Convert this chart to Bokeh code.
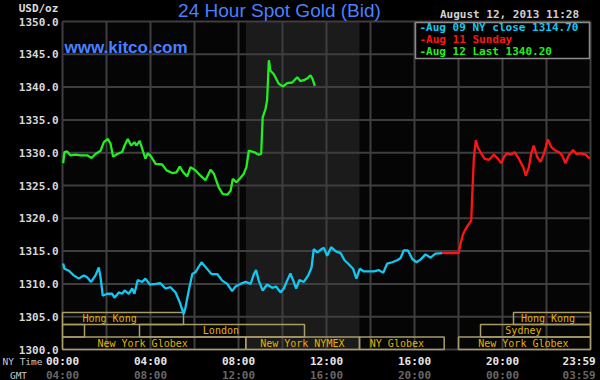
from bokeh.plotting import figure
from bokeh.models import ColumnDataSource, Range1d
from bokeh.core.properties import value
from bokeh.embed import file_html
from bokeh.resources import INLINE

# ---------------- data ----------------
# Aug 12 (today, green) : NY-time hours, USD/oz
aug12_hours = [0.03, 0.09, 0.21, 0.36, 0.59, 0.82, 1.12, 1.32, 1.50, 1.73, 1.88, 2.06, 2.18, 2.30,
               2.49, 2.71, 2.82, 2.97, 3.12, 3.27, 3.36, 3.51, 3.67, 3.77, 3.88, 4.03, 4.23, 4.53,
               4.73, 4.99, 5.18, 5.33, 5.49, 5.67, 5.82, 6.05, 6.27, 6.50, 6.73, 6.88, 7.10, 7.29,
               7.49, 7.64, 7.74, 7.90, 8.05, 8.24, 8.36, 8.47, 8.70, 8.92, 9.03, 9.10, 9.23, 9.30,
               9.38, 9.45, 9.60, 9.83, 10.03, 10.21, 10.44, 10.67, 10.82, 11.00, 11.12, 11.27,
               11.36, 11.47]
aug12_price = [1328.4, 1330.1, 1330.2, 1329.6, 1329.7, 1329.6, 1329.6, 1329.2, 1329.8, 1330.3,
               1331.6, 1332.1, 1331.4, 1329.4, 1329.8, 1330.1, 1331.1, 1332.1, 1331.1, 1331.6,
               1331.1, 1331.8, 1330.1, 1329.1, 1329.9, 1329.4, 1328.3, 1328.2, 1327.3, 1326.9,
               1327.0, 1327.9, 1327.0, 1326.4, 1327.8, 1327.3, 1326.5, 1325.8, 1327.4, 1326.8,
               1324.7, 1323.7, 1323.6, 1324.2, 1326.0, 1325.5, 1326.0, 1326.8, 1327.8, 1330.3,
               1330.1, 1329.7, 1329.8, 1335.4, 1336.7, 1338.0, 1344.1, 1342.5, 1342.0, 1340.5,
               1340.1, 1340.6, 1340.7, 1341.5, 1340.9, 1341.1, 1341.3, 1341.8, 1341.3, 1340.2]

# Aug 09 NY close (cyan)
aug09_hours = [0.03, 0.09, 0.29, 0.51, 0.74, 0.97, 1.12, 1.30, 1.50, 1.65, 1.73, 1.83, 2.03, 2.26,
               2.36, 2.56, 2.71, 2.82, 3.01, 3.17, 3.27, 3.42, 3.62, 3.77, 3.97, 4.23, 4.45, 4.68,
               4.91, 5.14, 5.33, 5.51, 5.59, 5.74, 5.90, 6.05, 6.17, 6.32, 6.47, 6.62, 6.77, 7.03,
               7.26, 7.49, 7.71, 7.86, 8.09, 8.32, 8.55, 8.70, 8.80, 8.92, 9.10, 9.30, 9.53, 9.71,
               9.91, 10.06, 10.21, 10.36, 10.51, 10.62, 10.77, 10.97, 11.17, 11.32, 11.42, 11.58,
               11.73, 11.88, 12.03, 12.21, 12.41, 12.64, 12.82, 13.01, 13.21, 13.36, 13.51, 13.70,
               13.92, 14.15, 14.38, 14.58, 14.76, 14.99, 15.21, 15.36, 15.51, 15.70, 15.90, 16.09,
               16.27, 16.50, 16.73, 16.95, 17.26]
aug09_price = [1313.1, 1312.3, 1312.0, 1311.3, 1310.8, 1311.3, 1311.0, 1310.3, 1311.3, 1312.5,
               1311.0, 1308.2, 1308.5, 1308.5, 1307.9, 1308.7, 1308.5, 1309.0, 1308.5, 1309.3,
               1308.5, 1310.6, 1310.3, 1310.8, 1309.9, 1310.0, 1310.1, 1309.3, 1309.5, 1308.7,
               1307.2, 1305.4, 1306.4, 1309.0, 1311.5, 1311.8, 1312.5, 1313.3, 1312.7, 1312.1,
               1311.5, 1311.5, 1310.5, 1310.0, 1308.9, 1309.6, 1310.0, 1310.3, 1310.0, 1311.5,
               1312.1, 1310.5, 1309.0, 1309.9, 1309.4, 1309.6, 1308.7, 1309.3, 1310.5, 1311.6,
               1310.3, 1309.3, 1310.6, 1310.3, 1311.3, 1312.5, 1315.3, 1314.8, 1315.2, 1315.5,
               1314.3, 1315.6, 1315.0, 1314.7, 1313.6, 1313.0, 1312.3, 1310.8, 1312.3, 1311.9,
               1311.9, 1311.9, 1312.1, 1311.7, 1313.1, 1313.3, 1313.6, 1313.9, 1315.1, 1315.1,
               1313.8, 1313.3, 1313.7, 1314.5, 1314.0, 1314.6, 1314.7]

# Aug 11 Sunday (red)
aug11_hours = [17.26, 18.01, 18.09, 18.21, 18.36, 18.51, 18.58, 18.62, 18.70, 18.79, 18.88, 19.00,
               19.18, 19.38, 19.60, 19.79, 19.94, 20.06, 20.21, 20.40, 20.55, 20.74, 20.94, 21.06,
               21.20, 21.30, 21.42, 21.58, 21.73, 21.88, 22.06, 22.23, 22.41, 22.56, 22.71, 22.86,
               23.01, 23.21, 23.36, 23.55, 23.77, 23.97]
aug11_price = [1314.7, 1314.7, 1316.1, 1317.6, 1318.6, 1319.3, 1319.7, 1323.2, 1329.3, 1331.9,
               1330.8, 1330.1, 1329.1, 1328.9, 1329.7, 1329.1, 1328.4, 1329.3, 1329.9, 1329.7,
               1330.1, 1329.1, 1327.8, 1326.5, 1327.8, 1329.8, 1331.1, 1329.3, 1328.6, 1329.8,
               1332.0, 1330.8, 1330.3, 1330.1, 1329.6, 1328.4, 1329.6, 1330.4, 1329.8, 1329.9,
               1329.7, 1329.1]

price_ticks = [1300, 1305, 1310, 1315, 1320, 1325, 1330, 1335, 1340, 1345, 1350]
grid_hours = [0, 2, 4, 6, 8, 10, 12, 14, 16, 18, 20, 22, 24]
time_ticks = [0, 4, 8, 12, 16, 20]
ny_time_labels = ["00:00", "04:00", "08:00", "12:00", "16:00", "20:00"]
gmt_labels = ["04:00", "08:00", "12:00", "16:00", "20:00", "00:00"]
end_tick = 23.983
end_ny_label = "23:59"
end_gmt_label = "03:59"

legend_labels = ["-Aug 09 NY close 1314.70", "-Aug 11 Sunday", "-Aug 12 Last 1340.20"]
legend_colors = ["#12c8f2", "#ff1414", "#22ee22"]

nymex_open, nymex_close = 8.33, 13.5

session_names = ["Hong Kong", "", "London", "New York Globex", "New York NYMEX",
                 "NY Globex", "New York Globex", "Sydney", "Hong Kong"]
session_start = [0, 0, 3.5, 0, 8.33, 13.5, 18.0, 19.0, 20.5]
session_end = [5.5, 1.0, 11.0, 8.33, 13.5, 17.35, 24, 24, 24]
session_row = [2, 1, 1, 0, 0, 0, 0, 1, 2]
session_label_hour = [2.14, 0.5, 7.2, 3.64, 10.9, 15.2, 20.95, 20.95, 22.07]
row_edges = [1300.0, 1301.9, 1303.8, 1305.65]

# ---------------- layout scales (pixels per unit) ----------------
W, H = 600, 380
PX_PER_HOUR = 22.0
PX_PER_USD = 6.56
PLOT_LEFT_PX, PLOT_TOP_PX = 62, 21
x0 = -PLOT_LEFT_PX / PX_PER_HOUR
x1 = x0 + W / PX_PER_HOUR
y1 = price_ticks[-1] + PLOT_TOP_PX / PX_PER_USD
y0 = y1 - H / PX_PER_USD

def ypx(py):
    return y1 - py / PX_PER_USD

def xpx(px):
    return x0 + px / PX_PER_HOUR

p = figure(width=W, height=H, x_range=Range1d(x0, x1), y_range=Range1d(y0, y1),
           output_backend="svg", toolbar_location=None, title=None,
           x_axis_location=None, y_axis_location=None,
           min_border=0, min_border_left=0, min_border_right=0,
           min_border_top=0, min_border_bottom=0,
           background_fill_color="#000000", border_fill_color="#000000",
           outline_line_color=None)
p.grid.visible = False

MONO = value("DejaVu Sans Mono")
SANS = value("Liberation Sans")

hmin, hmax = grid_hours[0], grid_hours[-1]
pmin, pmax = price_ticks[0], price_ticks[-1]

# plot background + NYMEX band
p.quad(left=[hmin], right=[hmax], bottom=[pmin], top=[pmax], fill_color="#050505",
       line_color=None)
p.quad(left=[nymex_open], right=[nymex_close], bottom=[pmin], top=[pmax],
       fill_color="#1b1b1b", line_color=None)

# grid
p.segment(x0=grid_hours, y0=[pmin] * len(grid_hours), x1=grid_hours,
          y1=[pmax] * len(grid_hours), line_color="#3e3e3e", line_width=2)
p.segment(x0=[hmin] * len(price_ticks), y0=price_ticks, x1=[hmax] * len(price_ticks),
          y1=price_ticks, line_color="#3e3e3e", line_width=2)

# price axis labels
p.text(x=[hmin] * len(price_ticks), y=price_ticks, text=[f"{v:.1f}" for v in price_ticks],
       x_offset=-4, text_align="right", text_baseline="middle", text_font=MONO,
       text_font_size="11px", text_font_style="bold", text_color="#d8d8d8")

# session boxes
src_s = ColumnDataSource(dict(
    left=session_start, right=session_end,
    bottom=[row_edges[r] for r in session_row],
    top=[row_edges[r + 1] for r in session_row],
    lx=session_label_hour,
    ly=[(row_edges[r] + row_edges[r + 1]) / 2 for r in session_row],
    name=session_names))
p.quad(left="left", right="right", bottom="bottom", top="top", source=src_s,
       fill_alpha=0, line_color="#a89c68", line_width=1.5)
p.text(x="lx", y="ly", text="name", source=src_s, text_align="center",
       text_baseline="middle", text_font=MONO, text_font_size="10px",
       text_color="#e2b200")

# price lines
p.line(aug09_hours, aug09_price, line_color=legend_colors[0], line_width=2.3)
p.line(aug11_hours, aug11_price, line_color=legend_colors[1], line_width=2.3)
p.line(aug12_hours, aug12_price, line_color=legend_colors[2], line_width=2.3)

# legend box
leg_left, leg_right, leg_top, leg_bottom = xpx(415), xpx(589), ypx(22), ypx(58)
p.quad(left=[leg_left], right=[leg_right], top=[leg_top], bottom=[leg_bottom],
       fill_color="#000000", line_color="#8c8c8c", line_width=1.5)
leg_row = (leg_top - leg_bottom) / 3
src_l = ColumnDataSource(dict(
    x=[xpx(419)] * len(legend_labels),
    y=[leg_top - (i + 0.45) * leg_row for i in range(len(legend_labels))],
    text=legend_labels, color=legend_colors))
p.text(x="x", y="y", text="text", source=src_l, text_color="color",
       text_align="left", text_baseline="middle", text_font=MONO,
       text_font_size="11px", text_font_style="bold")

# title and other texts
p.text(x=[xpx(279)], y=[ypx(10)], text=["24 Hour Spot Gold (Bid)"], text_align="center",
       text_baseline="middle", text_font=SANS, text_font_size="19px", text_color="#4a80ff")
p.text(x=[xpx(64)], y=[ypx(47)], text=["www.kitco.com"], text_align="left",
       text_baseline="middle", text_font=SANS, text_font_size="17px",
       text_font_style="bold", text_color="#4a80ff")
p.text(x=[xpx(38)], y=[ypx(8)], text=["USD/oz"], text_align="center",
       text_baseline="middle", text_font=MONO, text_font_size="11px",
       text_font_style="bold", text_color="#dcdcdc")
p.text(x=[xpx(509)], y=[ypx(14)], text=["August 12, 2013 11:28"], text_align="center",
       text_baseline="middle", text_font=MONO, text_font_size="11px",
       text_font_style="bold", text_color="#d0d0d0")

# time labels (NY time row and GMT row)
ny_y, gmt_y = ypx(360.5), ypx(374.5)
p.text(x=time_ticks, y=[ny_y] * len(time_ticks), text=ny_time_labels, text_align="center",
       text_baseline="middle", text_font=MONO, text_font_size="11px",
       text_font_style="bold", text_color="#e6e6e6")
p.text(x=time_ticks, y=[gmt_y] * len(time_ticks), text=gmt_labels, text_align="center",
       text_baseline="middle", text_font=MONO, text_font_size="11px",
       text_font_style="bold", text_color="#666666")
p.text(x=[end_tick], y=[ny_y], text=[end_ny_label], x_offset=5.5, text_align="right",
       text_baseline="middle", text_font=MONO, text_font_size="11px",
       text_font_style="bold", text_color="#e6e6e6")
p.text(x=[end_tick], y=[gmt_y], text=[end_gmt_label], x_offset=5.5, text_align="right",
       text_baseline="middle", text_font=MONO, text_font_size="11px",
       text_font_style="bold", text_color="#666666")
p.text(x=[xpx(22)], y=[ny_y], text=["NY Time"], text_align="center",
       text_baseline="middle", text_font=MONO, text_font_size="9.5px",
       text_color="#cccccc")
p.text(x=[xpx(18)], y=[gmt_y], text=["GMT"], text_align="center",
       text_baseline="middle", text_font=MONO, text_font_size="9.5px",
       text_color="#cccccc")

html = file_html(p, INLINE, title="24 Hour Spot Gold (Bid)")
html = html.replace("<head>", "<head><style>html,body{margin:0;padding:0;background:#000;overflow:hidden}</style>", 1)
open("out.html", "w").write(html)
